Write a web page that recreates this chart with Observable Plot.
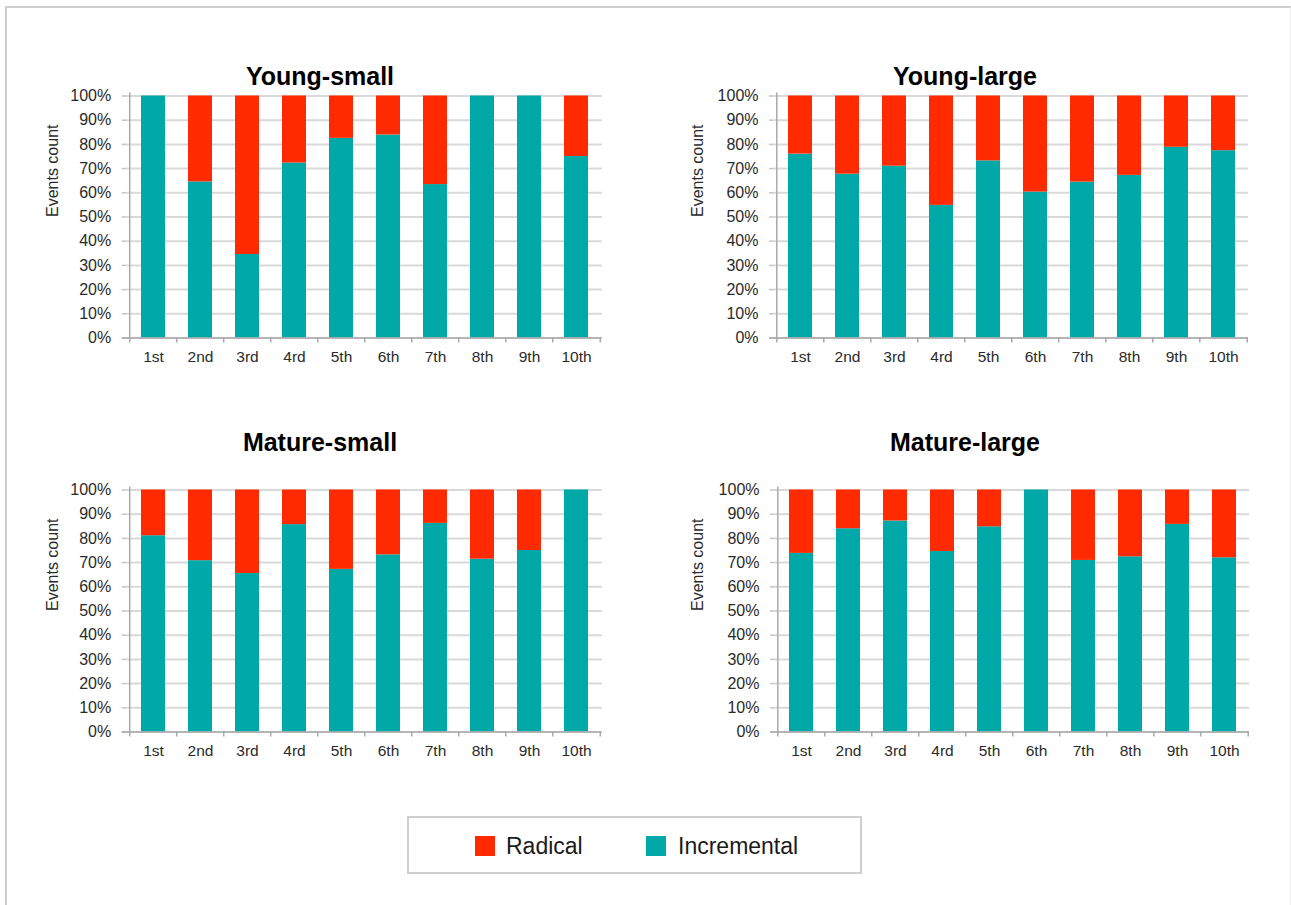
<!DOCTYPE html>
<html>
<head>
<meta charset="utf-8">
<script src="https://cdn.jsdelivr.net/npm/d3@7"></script>
<script src="https://cdn.jsdelivr.net/npm/@observablehq/plot@0.6"></script>
<style>
  body { margin: 0; background: #fff; font-family: "Liberation Sans", Arial, sans-serif; }
  #page { position: relative; width: 1291px; height: 905px; overflow: hidden; background: #fff; }
  #frame { position: absolute; left: 5px; top: 6px; width: 1283px; height: 920px;
           border-left: 2px solid #cdcdcd; border-top: 2px solid #cdcdcd; border-right: 1px solid #f0f0f0; }
  .title { position: absolute; width: 400px; text-align: center; font-weight: bold;
           font-size: 25px; line-height: 25px; color: #000; }
  .panel { position: absolute; }
  #legend { position: absolute; left: 407px; top: 816px; width: 451px; height: 54px;
            border: 2px solid #cfcfcf; background: #fff; }
  .sw { position: absolute; top: 18px; width: 20px; height: 20px; }
  .lt { position: absolute; top: 14px; font-size: 23px; line-height: 28px; color: #1a1a1a; }
</style>
</head>
<body>
<div id="page">
  <div id="frame"></div>
</div>
<script>
// Ordinal position of each event along the x axis
const categories = ["1st", "2nd", "3rd", "4rd", "5th", "6th", "7th", "8th", "9th", "10th"];
const seriesNames = ["Incremental", "Radical"];

// Share of events (%) per position, one pair of series per firm group
const youngSmallIncremental = [100, 64.5, 34.5, 72.3, 82.5, 83.9, 63.4, 100, 100, 75.0];
const youngSmallRadical     = [0, 35.5, 65.5, 27.7, 17.5, 16.1, 36.6, 0, 0, 25.0];

const youngLargeIncremental = [76.0, 67.7, 71.0, 54.8, 73.2, 60.3, 64.4, 67.2, 78.8, 77.4];
const youngLargeRadical     = [24.0, 32.3, 29.0, 45.2, 26.8, 39.7, 35.6, 32.8, 21.2, 22.6];

const matureSmallIncremental = [81.1, 70.8, 65.5, 85.7, 67.2, 73.2, 86.2, 71.4, 75.0, 100];
const matureSmallRadical     = [18.9, 29.2, 34.5, 14.3, 32.8, 26.8, 13.8, 28.6, 25.0, 0];

const matureLargeIncremental = [73.8, 84.0, 87.2, 74.6, 84.8, 100, 70.9, 72.4, 85.8, 72.0];
const matureLargeRadical     = [26.2, 16.0, 12.8, 25.4, 15.2, 0, 29.1, 27.6, 14.2, 28.0];

const yTicks = [0, 10, 20, 30, 40, 50, 60, 70, 80, 90, 100];

const TEAL = "#00a8a8";
const RED = "#ff2a00";
const FONT = "'Liberation Sans', Arial, sans-serif";

const page = document.getElementById("page");

function addTitle(text, cx, cy) {
  const d = document.createElement("div");
  d.className = "title";
  d.textContent = text;
  d.style.left = (cx - 200) + "px";
  d.style.top = (cy - 12.5) + "px";
  page.appendChild(d);
}

function panel(incremental, radical, left, top, ml, mr) {
  const rows = categories.flatMap((c, i) => [
    {cat: c, type: "Incremental", share: incremental[i]},
    {cat: c, type: "Radical", share: radical[i]}
  ]);
  const width = 610, height = 290, mt = 15.5, mb = 32.5;
  const step = (width - ml - mr) / categories.length;
  const frameH = height - mt - mb;
  const chart = Plot.plot({
    width, height,
    marginTop: mt, marginBottom: mb, marginLeft: ml, marginRight: mr,
    style: {fontFamily: FONT, fontSize: "16px", color: "#2a2a2a", background: "transparent", overflow: "visible"},
    x: {domain: categories, paddingInner: 0.5, paddingOuter: 0.25, label: null, axis: null},
    y: {domain: [0, 100], label: null, axis: null},
    color: {domain: seriesNames, range: [TEAL, RED]},
    marks: [
      Plot.gridY(yTicks, {stroke: "#d9d9d9", strokeWidth: 2, strokeOpacity: 1}),
      Plot.axisY(yTicks, {tickSize: 4.5, tickPadding: 11, tickFormat: d => d + "%",
                          stroke: "#c4c4c4", strokeWidth: 1.5, fill: "#2a2a2a", fontSize: 16, label: null}),
      Plot.barY(rows, {x: "cat", y: "share", fill: "type", order: seriesNames}),
      // baseline and vertical axis line
      Plot.ruleY([0], {stroke: "#a9a9a9", strokeWidth: 1.5, insetLeft: -4.5}),
      Plot.ruleX([categories[0]], {x: d => d, dx: -step / 2, stroke: "#a9a9a9", strokeWidth: 1.5,
                                   insetTop: -3, insetBottom: -5}),
      // category boundary ticks below the baseline
      Plot.ruleX(categories.slice(1), {x: d => d, dx: -step / 2, stroke: "#a9a9a9", strokeWidth: 1.5,
                                       insetTop: frameH, insetBottom: -5}),
      Plot.ruleX([categories[categories.length - 1]], {x: d => d, dx: step / 2, stroke: "#a9a9a9", strokeWidth: 1.5,
                                       insetTop: frameH, insetBottom: -5}),
      Plot.axisX(categories, {tickSize: 0, tickPadding: 13, fill: "#2a2a2a", fontSize: 15.5, label: null}),
      Plot.text(["Events count"], {frameAnchor: "left", dx: -(ml - 52), rotate: -90,
                                   fontSize: 16, fill: "#2a2a2a"})
    ]
  });
  chart.classList.add("panel");
  chart.style.left = left + "px";
  chart.style.top = top + "px";
  page.appendChild(chart);
}

panel(youngSmallIncremental, youngSmallRadical, 0, 80, 126.2, 8.2);
panel(youngLargeIncremental, youngLargeRadical, 645, 80, 128.5, 7);
panel(matureSmallIncremental, matureSmallRadical, 0, 474, 126.2, 8.2);
panel(matureLargeIncremental, matureLargeRadical, 645, 474, 129.5, 6);

addTitle("Young-small", 320, 76);
addTitle("Young-large", 965, 76);
addTitle("Mature-small", 320, 442);
addTitle("Mature-large", 965, 442);

// Legend box below the grid of panels
const legend = document.createElement("div");
legend.id = "legend";
const entries = [
  {name: "Radical", color: RED, sx: 66, tx: 97},
  {name: "Incremental", color: TEAL, sx: 237, tx: 269}
];
for (const e of entries) {
  const sw = document.createElement("div");
  sw.className = "sw";
  sw.style.left = e.sx + "px";
  sw.style.background = e.color;
  legend.appendChild(sw);
  const t = document.createElement("div");
  t.className = "lt";
  t.style.left = e.tx + "px";
  t.textContent = e.name;
  legend.appendChild(t);
}
page.appendChild(legend);
</script>
</body>
</html>
